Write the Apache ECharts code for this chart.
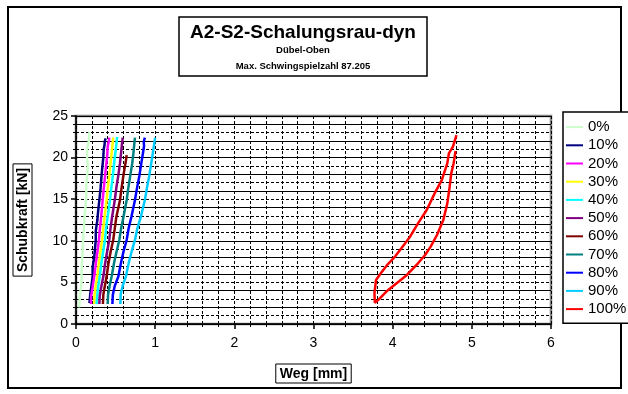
<!DOCTYPE html>
<html>
<head>
<meta charset="utf-8">
<script src="https://cdn.jsdelivr.net/npm/echarts@6/dist/echarts.min.js"></script>
<style>
html,body{margin:0;padding:0;background:#fff;}
#c{width:628px;height:394px;}
</style>
</head>
<body>
<div id="c"></div>
<script>
// ---- data (x = Weg [mm], y = Schubkraft [kN]) ----
const seriesNames = ['0%','10%','20%','30%','40%','50%','60%','70%','80%','90%','100%'];
const seriesColors = ['#ccffcc','#000080','#ff00ff','#ffff00','#00ffff','#800080','#800000','#008080','#0000ff','#00ccff','#ff0000'];
const xTicks = [0,1,2,3,4,5,6];
const yTicks = [0,5,10,15,20,25];

const s0 = [[0.04,2.0],[0.05,3.5],[0.07,5.1],[0.07,6.5],[0.08,8.2],[0.09,10.1],[0.10,11.5],[0.11,13.2],[0.13,15.1],[0.13,16.8],[0.15,18.9],[0.14,20.0],[0.14,21.1],[0.16,21.8],[0.17,23.1]];
const s10 = [[0.17,2.5],[0.18,3.6],[0.19,4.2],[0.21,5.7],[0.21,6.8],[0.23,8.0],[0.25,10.1],[0.25,11.2],[0.27,12.5],[0.28,13.6],[0.295,14.9],[0.31,16.3],[0.32,17.5],[0.33,18.6],[0.345,20.0],[0.35,21.0],[0.36,21.5],[0.365,22.0],[0.375,22.3]];
const s20 = [[0.19,2.4],[0.19,3.3],[0.21,4.4],[0.23,5.7],[0.25,7.2],[0.27,8.6],[0.29,10.1],[0.30,11.3],[0.315,12.6],[0.337,14.9],[0.35,16.2],[0.365,17.6],[0.38,19.0],[0.395,20.3],[0.40,21.3],[0.415,22.0],[0.42,22.4]];
const s30 = [[0.23,2.4],[0.235,3.5],[0.25,4.6],[0.27,5.7],[0.29,7.4],[0.31,8.8],[0.33,10.1],[0.345,11.6],[0.36,12.8],[0.387,14.9],[0.40,16.3],[0.42,17.8],[0.435,19.2],[0.45,20.5],[0.46,21.5],[0.47,22.4]];
const s40 = [[0.26,2.4],[0.27,3.6],[0.28,4.5],[0.30,5.7],[0.32,7.3],[0.345,8.8],[0.366,10.1],[0.38,11.5],[0.40,12.9],[0.43,14.9],[0.445,16.3],[0.465,17.8],[0.48,19.2],[0.495,20.4],[0.51,21.6],[0.52,22.5]];
const s50 = [[0.295,2.4],[0.30,3.4],[0.32,4.5],[0.345,5.7],[0.37,7.4],[0.395,8.8],[0.42,10.1],[0.435,11.4],[0.455,12.8],[0.49,14.9],[0.51,16.4],[0.535,17.9],[0.555,19.3],[0.57,20.6],[0.58,21.6],[0.59,22.4]];
const s60 = [[0.34,2.4],[0.345,3.5],[0.365,4.6],[0.387,5.7],[0.41,7.3],[0.44,8.8],[0.47,10.1],[0.49,11.5],[0.51,12.9],[0.556,14.9],[0.575,16.3],[0.595,17.6],[0.615,18.8],[0.63,19.6],[0.64,20.3]];
const s70 = [[0.40,2.4],[0.405,3.5],[0.425,4.6],[0.45,5.7],[0.48,7.3],[0.515,8.8],[0.547,10.1],[0.57,11.5],[0.60,12.9],[0.64,14.9],[0.66,16.3],[0.685,17.8],[0.71,19.3],[0.725,20.5],[0.735,21.5],[0.745,22.4]];
const s80 = [[0.46,2.4],[0.465,3.5],[0.49,4.6],[0.535,5.7],[0.565,7.2],[0.60,8.7],[0.64,10.1],[0.665,11.5],[0.70,12.9],[0.745,14.9],[0.77,16.3],[0.80,17.8],[0.825,19.3],[0.845,20.5],[0.86,21.4],[0.855,21.9],[0.87,22.4]];
const s90 = [[0.56,2.4],[0.565,3.6],[0.59,4.6],[0.63,5.7],[0.665,7.3],[0.705,8.8],[0.745,10.1],[0.775,11.5],[0.82,12.9],[0.87,14.9],[0.895,16.3],[0.925,17.8],[0.95,19.3],[0.97,20.5],[0.985,21.5],[1.0,22.4]];
const s100 = [[4.794,20.8],[4.77,19.3],[4.74,18.1],[4.72,16.5],[4.69,14.5],[4.64,12.5],[4.56,10.7],[4.48,9.3],[4.41,8.3],[4.32,7.3],[4.18,5.9],[4.05,4.9],[3.92,3.9],[3.82,2.9],[3.775,2.56],[3.77,3.7],[3.79,5.3],[3.85,6.1],[3.94,7.2],[4.03,8.1],[4.11,9.1],[4.22,10.5],[4.32,12.1],[4.43,13.7],[4.53,15.7],[4.62,17.3],[4.69,19.3],[4.71,20.5],[4.76,21.3],[4.806,22.7]];
const seriesData = [s0,s10,s20,s30,s40,s50,s60,s70,s80,s90,s100];

const chart = echarts.init(document.getElementById('c'), null, {renderer:'canvas'});
const FONT = 'Liberation Sans, Arial, sans-serif';

const option = {
  animation: false,
  backgroundColor: '#fff',
  textStyle: {fontFamily: FONT},
  grid: {left: 76, right: 77, top: 116, bottom: 70, show: true, borderColor: '#808080', borderWidth: 2.5, backgroundColor: '#fff'},
  xAxis: {
    type: 'value', min: 0, max: 6, interval: 1,
    name: 'Weg [mm]', nameLocation: 'middle', nameGap: 40,
    nameTextStyle: {fontFamily: FONT, fontWeight: 'bold', fontSize: 14, color: '#000', borderColor: '#000', borderWidth: 1, padding: [3,4,2,4]},
    axisLine: {show: true, onZero: false, lineStyle: {color: '#000', width: 1.5}},
    axisTick: {show: true, length: 5, lineStyle: {color: '#000', width: 1.5}},
    minorTick: {show: true, splitNumber: 5, length: 3, lineStyle: {color: '#000'}},
    axisLabel: {fontFamily: FONT, fontSize: 14, color: '#000', margin: 12,
      formatter: v => xTicks.indexOf(Math.round(v)) >= 0 ? String(Math.round(v)) : ''},
    splitLine: {show: true, lineStyle: {color: '#000', width: 1, type: [3,2]}},
    minorSplitLine: {show: true, lineStyle: {color: '#000', width: 1, type: [3,2]}}
  },
  yAxis: [{
    type: 'value', min: 0, max: 25, interval: 5,
    name: 'Schubkraft [kN]', nameLocation: 'middle', nameGap: 44, nameRotate: 90,
    nameTextStyle: {fontFamily: FONT, fontWeight: 'bold', fontSize: 14, color: '#000', borderColor: '#000', borderWidth: 1, padding: [3,4,2,4]},
    axisLine: {show: true, onZero: false, lineStyle: {color: '#000', width: 1.5}},
    axisTick: {show: true, length: 5, lineStyle: {color: '#000', width: 1.5}},
    minorTick: {show: true, splitNumber: 5, length: 3, lineStyle: {color: '#000'}},
    axisLabel: {fontFamily: FONT, fontSize: 14, color: '#000', margin: 8,
      formatter: v => yTicks.indexOf(Math.round(v)) >= 0 ? String(Math.round(v)) : ''},
    splitLine: {show: true, lineStyle: {color: '#000', width: 1, type: [3,2]}},
    minorSplitLine: {show: true, lineStyle: {color: '#000', width: 1, type: [3,2]}}
  }, {
    type: 'value', min: 0, max: 25, interval: 2, position: 'right',
    axisLine: {show: false}, axisTick: {show: false}, axisLabel: {show: false},
    splitLine: {show: true, lineStyle: {color: '#000', width: 1, type: 'solid'}}
  }],
  legend: {
    orient: 'vertical', left: 563, top: 112,
    data: seriesNames,
    icon: 'rect', itemWidth: 17, itemHeight: 2, itemGap: 2,
    padding: [7, 12, 6, 3],
    borderColor: '#000', borderWidth: 1.5, backgroundColor: '#fff',
    textStyle: {fontFamily: FONT, fontSize: 15, color: '#000', lineHeight: 16.2}
  },
  graphic: [
    {type: 'rect', shape: {x: 8, y: 7, width: 613, height: 381}, style: {fill: 'none', stroke: '#000', lineWidth: 2}, z: -10, silent: true},
    {type: 'rect', shape: {x: 179, y: 17, width: 248, height: 59}, style: {fill: '#fff', stroke: '#000', lineWidth: 1.5}, z: 10},
    {type: 'text', x: 303, y: 33, z: 11, style: {text: 'A2-S2-Schalungsrau-dyn', font: 'bold 19px ' + FONT, fill: '#000', align: 'center', verticalAlign: 'middle'}},
    {type: 'text', x: 303, y: 50, z: 11, style: {text: 'Dübel-Oben', font: 'bold 9.5px ' + FONT, fill: '#000', align: 'center', verticalAlign: 'middle'}},
    {type: 'text', x: 303, y: 66, z: 11, style: {text: 'Max. Schwingspielzahl 87.205', font: 'bold 9.5px ' + FONT, fill: '#000', align: 'center', verticalAlign: 'middle'}}
  ],
  series: seriesNames.map((n, i) => ({
    name: n, type: 'line', data: seriesData[i], xAxisIndex: 0, yAxisIndex: 0,
    showSymbol: false, symbol: 'none', smooth: false,
    lineStyle: {color: seriesColors[i], width: 2.5},
    itemStyle: {color: seriesColors[i]}
  }))
};
chart.setOption(option);
</script>
</body>
</html>
